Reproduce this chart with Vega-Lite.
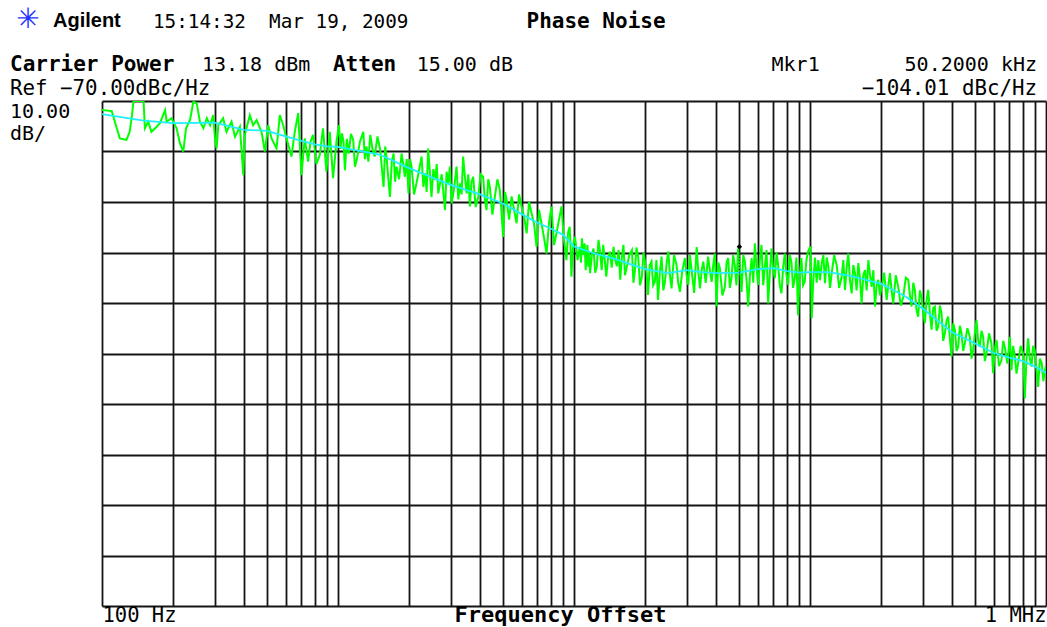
{
  "$schema": "https://vega.github.io/schema/vega-lite/v6.json",
  "width": 944,
  "height": 505,
  "autosize": {"type": "none"},
  "padding": {"left": 102, "top": 101, "right": 1, "bottom": 21},
  "background": "white",
  "config": {"view": {"stroke": null}, "font": "DejaVu Sans Mono"},
  "datasets": {
    "raw": [
      {"f":100,"db":-71.8},{"f":110,"db":-72.0},{"f":115,"db":-75.1},{"f":119,"db":-77.4},{"f":127,"db":-77.7},{"f":131,"db":-76.1},{"f":134,"db":-72.8},{"f":136,"db":-70.0},{"f":150,"db":-70.0},{"f":152,"db":-75.4},{"f":157,"db":-74.1},{"f":162,"db":-76.1},{"f":168,"db":-75.4},{"f":176,"db":-74.4},{"f":185,"db":-71.8},{"f":188,"db":-74.1},{"f":197,"db":-73.4},{"f":207,"db":-75.4},{"f":214,"db":-78.4},{"f":221,"db":-80.0},{"f":227,"db":-75.4},{"f":236,"db":-73.8},{"f":244,"db":-70.1},{"f":252,"db":-70.5},{"f":260,"db":-74.1},{"f":269,"db":-75.4},{"f":278,"db":-73.4},{"f":287,"db":-74.8},{"f":296,"db":-72.8},{"f":301,"db":-77.4},{"f":306,"db":-79.4},{"f":311,"db":-74.8},{"f":326,"db":-73.4},{"f":337,"db":-76.1},{"f":354,"db":-74.1},{"f":366,"db":-77.1},{"f":384,"db":-75.1},{"f":397,"db":-84.7},{"f":403,"db":-76.7},{"f":423,"db":-72.8},{"f":437,"db":-74.8},{"f":452,"db":-73.8},{"f":474,"db":-76.1},{"f":490,"db":-80.0},{"f":506,"db":-74.8},{"f":523,"db":-77.4},{"f":549,"db":-79.4},{"f":567,"db":-72.8},{"f":586,"db":-74.8},{"f":605,"db":-77.4},{"f":635,"db":-81.0},{"f":656,"db":-76.1},{"f":678,"db":-72.4},{"f":700,"db":-84.7},{"f":723,"db":-77.4},{"f":747,"db":-82.0},{"f":765,"db":-78.0},{"f":784,"db":-76.7},{"f":810,"db":-82.5},{"f":837,"db":-80.7},{"f":864,"db":-75.4},{"f":893,"db":-84.0},{"f":923,"db":-76.1},{"f":953,"db":-85.3},{"f":985,"db":-78.1},
      {"f":1010,"db":-74.8},{"f":1025,"db":-79.5},{"f":1040,"db":-76.4},{"f":1055,"db":-78.0},{"f":1070,"db":-83.7},{"f":1090,"db":-77.5},{"f":1110,"db":-80.4},{"f":1135,"db":-76.5},{"f":1160,"db":-77.7},{"f":1180,"db":-83.0},{"f":1200,"db":-81.7},{"f":1240,"db":-78.0},{"f":1280,"db":-76.1},{"f":1300,"db":-81.5},{"f":1320,"db":-79.0},{"f":1345,"db":-82.0},{"f":1370,"db":-76.7},{"f":1400,"db":-79.5},{"f":1430,"db":-81.0},{"f":1470,"db":-77.0},{"f":1510,"db":-79.7},{"f":1535,"db":-83.5},{"f":1560,"db":-87.0},{"f":1585,"db":-79.0},{"f":1610,"db":-81.7},{"f":1635,"db":-85.5},{"f":1660,"db":-89.0},{"f":1690,"db":-82.0},{"f":1720,"db":-80.4},{"f":1745,"db":-86.0},{"f":1770,"db":-83.0},{"f":1815,"db":-85.5},{"f":1860,"db":-80.4},{"f":1890,"db":-82.5},{"f":1920,"db":-85.0},{"f":1955,"db":-81.5},{"f":1990,"db":-88.3},{"f":2020,"db":-81.5},{"f":2050,"db":-83.0},{"f":2100,"db":-88.5},{"f":2150,"db":-86.3},{"f":2200,"db":-84.0},{"f":2260,"db":-81.0},{"f":2300,"db":-87.0},{"f":2340,"db":-84.3},{"f":2375,"db":-88.0},{"f":2410,"db":-79.4},{"f":2450,"db":-84.0},{"f":2490,"db":-89.0},{"f":2535,"db":-83.5},{"f":2580,"db":-85.6},{"f":2620,"db":-82.5},{"f":2660,"db":-88.3},{"f":2750,"db":-84.5},{"f":2840,"db":-91.6},{"f":2885,"db":-84.0},{"f":2930,"db":-86.3},{"f":2980,"db":-83.0},{"f":3030,"db":-90.3},{"f":3100,"db":-87.5},{"f":3180,"db":-83.0},{"f":3235,"db":-89.5},{"f":3290,"db":-86.3},{"f":3340,"db":-88.5},{"f":3390,"db":-81.0},{"f":3450,"db":-85.0},{"f":3510,"db":-88.3},{"f":3565,"db":-84.5},{"f":3620,"db":-90.9},{"f":3680,"db":-86.0},{"f":3740,"db":-85.0},{"f":3830,"db":-91.0},{"f":3930,"db":-89.0},{"f":4020,"db":-84.5},{"f":4120,"db":-85.0},{"f":4190,"db":-89.5},{"f":4260,"db":-91.6},{"f":4330,"db":-85.5},{"f":4400,"db":-87.0},{"f":4510,"db":-92.5},{"f":4620,"db":-89.0},{"f":4735,"db":-85.5},{"f":4850,"db":-87.6},{"f":4930,"db":-92.0},{"f":5010,"db":-96.9},{"f":5100,"db":-88.0},{"f":5180,"db":-89.6},{"f":5310,"db":-93.5},{"f":5440,"db":-88.9},{"f":5575,"db":-91.5},{"f":5710,"db":-94.2},{"f":5850,"db":-88.5},{"f":6000,"db":-90.9},{"f":6150,"db":-93.0},{"f":6300,"db":-96.2},{"f":6450,"db":-90.0},{"f":6610,"db":-92.2},{"f":6780,"db":-94.5},{"f":6940,"db":-98.9},{"f":7110,"db":-91.5},{"f":7280,"db":-94.2},{"f":7460,"db":-97.0},{"f":7650,"db":-100.2},{"f":7840,"db":-94.0},{"f":8030,"db":-90.9},{"f":8230,"db":-98.5},{"f":8430,"db":-96.2},{"f":8640,"db":-93.5},{"f":8850,"db":-90.9},{"f":9070,"db":-97.5},{"f":9290,"db":-101.5},{"f":9440,"db":-96.0},{"f":9590,"db":-94.9},{"f":9670,"db":-99.0},{"f":9750,"db":-104.8},{"f":9920,"db":-98.5},
      {"f":10100,"db":-96.9},{"f":10350,"db":-101.5},{"f":10600,"db":-98.9},{"f":10700,"db":-102.0},{"f":10800,"db":-97.2},{"f":10950,"db":-100.5},{"f":11100,"db":-98.2},{"f":11200,"db":-103.5},{"f":11300,"db":-101.1},{"f":11400,"db":-98.5},{"f":11500,"db":-102.8},{"f":11600,"db":-100.0},{"f":11700,"db":-104.1},{"f":11900,"db":-100.5},{"f":12100,"db":-99.2},{"f":12300,"db":-104.0},{"f":12500,"db":-102.7},{"f":12700,"db":-97.5},{"f":12900,"db":-99.8},{"f":13100,"db":-103.5},{"f":13300,"db":-98.5},{"f":13500,"db":-101.5},{"f":13700,"db":-104.8},{"f":13950,"db":-101.0},{"f":14200,"db":-99.8},{"f":14450,"db":-103.0},{"f":14700,"db":-98.9},{"f":14950,"db":-101.5},{"f":15200,"db":-102.7},{"f":15450,"db":-99.5},{"f":15700,"db":-105.4},{"f":15950,"db":-101.0},{"f":16200,"db":-98.5},{"f":16450,"db":-104.5},{"f":16700,"db":-103.1},{"f":17150,"db":-100.5},{"f":17600,"db":-99.5},{"f":17850,"db":-106.0},{"f":18100,"db":-103.8},{"f":18400,"db":-99.0},{"f":18700,"db":-100.8},{"f":19050,"db":-106.5},{"f":19400,"db":-104.8},{"f":19700,"db":-100.0},{"f":20000,"db":-101.8},{"f":20300,"db":-104.0},{"f":20600,"db":-108.4},{"f":20950,"db":-102.5},{"f":21300,"db":-101.8},{"f":21650,"db":-106.5},{"f":22000,"db":-105.8},{"f":22350,"db":-101.5},{"f":22700,"db":-109.4},{"f":23100,"db":-104.0},{"f":23500,"db":-100.8},{"f":23900,"db":-107.5},{"f":24300,"db":-105.8},{"f":24700,"db":-102.0},{"f":25100,"db":-99.8},{"f":25500,"db":-104.5},{"f":25900,"db":-107.1},{"f":26550,"db":-100.5},{"f":27200,"db":-102.5},{"f":27650,"db":-106.0},{"f":28100,"db":-107.8},{"f":28800,"db":-103.5},{"f":29500,"db":-101.1},{"f":30000,"db":-104.5},{"f":30500,"db":-106.4},{"f":31000,"db":-100.5},{"f":31500,"db":-103.5},{"f":32300,"db":-108.0},{"f":33100,"db":-98.9},{"f":33650,"db":-104.0},{"f":34200,"db":-107.1},{"f":34750,"db":-103.5},{"f":35300,"db":-101.8},{"f":36150,"db":-106.0},{"f":37000,"db":-100.8},{"f":37650,"db":-103.5},{"f":38300,"db":-105.8},{"f":38900,"db":-102.5},{"f":39500,"db":-100.2},{"f":39850,"db":-105.0},{"f":40200,"db":-110.7},{"f":40850,"db":-102.0},{"f":41500,"db":-103.1},{"f":42550,"db":-108.5},{"f":43600,"db":-106.8},{"f":44300,"db":-102.0},{"f":45000,"db":-101.1},{"f":45750,"db":-107.0},{"f":46500,"db":-105.1},{"f":47250,"db":-100.5},{"f":48000,"db":-102.5},{"f":48800,"db":-106.5},{"f":49600,"db":-99.2},{"f":50450,"db":-103.0},{"f":51300,"db":-107.8},{"f":52150,"db":-100.5},{"f":53000,"db":-101.8},{"f":53850,"db":-105.5},{"f":54700,"db":-110.7},{"f":55650,"db":-104.5},{"f":56600,"db":-101.1},{"f":57500,"db":-106.0},{"f":58400,"db":-98.2},{"f":59350,"db":-103.0},{"f":60300,"db":-106.4},{"f":61300,"db":-101.5},{"f":62300,"db":-98.5},{"f":63350,"db":-106.5},{"f":64400,"db":-102.8},{"f":65450,"db":-99.5},{"f":66500,"db":-110.1},{"f":67600,"db":-104.0},{"f":68700,"db":-99.2},{"f":69850,"db":-103.5},{"f":71000,"db":-105.1},{"f":72150,"db":-100.0},{"f":73300,"db":-102.5},{"f":74500,"db":-106.5},{"f":75700,"db":-108.1},{"f":76950,"db":-103.0},{"f":78200,"db":-100.2},{"f":79500,"db":-104.5},{"f":80800,"db":-106.4},{"f":82100,"db":-100.5},{"f":83400,"db":-101.8},{"f":84800,"db":-107.0},{"f":86200,"db":-105.1},{"f":87600,"db":-101.0},{"f":89000,"db":-112.4},{"f":90450,"db":-104.5},{"f":91900,"db":-101.1},{"f":93450,"db":-106.5},{"f":95000,"db":-105.8},{"f":96550,"db":-101.5},{"f":98100,"db":-99.8},
      {"f":100500,"db":-98.8},{"f":101700,"db":-113.0},{"f":103300,"db":-105.5},{"f":105000,"db":-101.0},{"f":106700,"db":-106.0},{"f":108400,"db":-101.5},{"f":110200,"db":-105.5},{"f":112100,"db":-102.1},{"f":113900,"db":-100.5},{"f":115800,"db":-106.1},{"f":117700,"db":-101.0},{"f":119600,"db":-102.8},{"f":121600,"db":-107.0},{"f":123600,"db":-104.1},{"f":126600,"db":-100.5},{"f":129700,"db":-102.5},{"f":132900,"db":-107.0},{"f":136200,"db":-104.8},{"f":138400,"db":-101.5},{"f":140700,"db":-107.4},{"f":143000,"db":-103.0},{"f":145300,"db":-100.2},{"f":147700,"db":-105.5},{"f":150200,"db":-108.1},{"f":152600,"db":-102.5},{"f":155100,"db":-104.1},{"f":157600,"db":-107.5},{"f":160200,"db":-102.1},{"f":162800,"db":-105.0},{"f":165500,"db":-110.1},{"f":168200,"db":-104.5},{"f":171000,"db":-103.5},{"f":173800,"db":-107.5},{"f":176700,"db":-101.5},{"f":179600,"db":-104.5},{"f":182500,"db":-106.8},{"f":185500,"db":-103.5},{"f":188500,"db":-110.7},{"f":191600,"db":-106.5},{"f":194700,"db":-105.4},{"f":197900,"db":-108.5},{"f":201200,"db":-106.8},{"f":206200,"db":-104.0},{"f":211300,"db":-109.4},{"f":214700,"db":-106.5},{"f":218100,"db":-104.1},{"f":221700,"db":-107.5},{"f":225300,"db":-110.1},{"f":230900,"db":-104.5},{"f":236600,"db":-106.8},{"f":242500,"db":-110.5},{"f":248400,"db":-108.8},{"f":254600,"db":-105.0},{"f":260800,"db":-105.4},{"f":265100,"db":-108.5},{"f":269400,"db":-110.7},{"f":273800,"db":-106.0},{"f":278300,"db":-107.4},{"f":282800,"db":-111.5},{"f":287400,"db":-112.7},{"f":292100,"db":-107.5},{"f":296900,"db":-108.8},{"f":301800,"db":-112.0},{"f":306800,"db":-114.0},{"f":311800,"db":-109.5},{"f":316900,"db":-107.4},{"f":322100,"db":-112.0},{"f":327400,"db":-115.3},{"f":332800,"db":-111.0},{"f":338200,"db":-110.7},{"f":343800,"db":-115.5},{"f":349400,"db":-114.7},{"f":355100,"db":-110.5},{"f":360900,"db":-112.0},{"f":366900,"db":-117.5},{"f":372900,"db":-116.0},{"f":379000,"db":-113.5},{"f":385200,"db":-112.7},{"f":391500,"db":-117.0},{"f":397900,"db":-120.6},{"f":404400,"db":-114.0},{"f":411000,"db":-115.3},{"f":417800,"db":-119.5},{"f":424600,"db":-118.7},{"f":431600,"db":-114.5},{"f":438600,"db":-116.0},{"f":445800,"db":-119.5},{"f":453100,"db":-118.0},{"f":464400,"db":-115.0},{"f":475700,"db":-116.7},{"f":483500,"db":-121.0},{"f":491400,"db":-119.3},{"f":499500,"db":-116.0},{"f":507700,"db":-113.4},{"f":516000,"db":-117.5},{"f":524400,"db":-118.7},{"f":533000,"db":-115.5},{"f":541700,"db":-116.7},{"f":550600,"db":-121.5},{"f":559600,"db":-120.0},{"f":573600,"db":-116.0},{"f":587600,"db":-118.0},{"f":592300,"db":-121.0},{"f":597000,"db":-123.9},{"f":607000,"db":-119.0},{"f":617000,"db":-117.3},{"f":632500,"db":-122.5},{"f":648000,"db":-121.3},{"f":658500,"db":-117.5},{"f":669000,"db":-118.7},{"f":686000,"db":-122.0},{"f":703000,"db":-116.7},{"f":708500,"db":-120.0},{"f":714000,"db":-123.3},{"f":726000,"db":-118.5},{"f":738000,"db":-120.6},{"f":750000,"db":-124.0},{"f":762000,"db":-121.9},{"f":781000,"db":-118.5},{"f":800000,"db":-120.0},{"f":806500,"db":-124.0},{"f":813000,"db":-128.9},{"f":826500,"db":-121.0},{"f":840000,"db":-117.0},{"f":854000,"db":-121.0},{"f":868000,"db":-122.6},{"f":882000,"db":-118.5},{"f":896000,"db":-119.3},{"f":911000,"db":-123.0},{"f":926000,"db":-126.6},{"f":942500,"db":-121.0},{"f":959000,"db":-121.9},{"f":974500,"db":-125.5},{"f":990000,"db":-123.3},{"f":1000000,"db":-122.5}
    ],
    "avg": [
      {"f":100,"db":-72.6},{"f":150,"db":-73.9},{"f":200,"db":-74.4},{"f":300,"db":-74.3},{"f":400,"db":-75.7},{"f":500,"db":-75.9},{"f":600,"db":-77.0},{"f":700,"db":-77.9},{"f":800,"db":-78.6},{"f":900,"db":-79.0},{"f":1000,"db":-79.1},{"f":1500,"db":-80.6},{"f":2000,"db":-83.3},{"f":3000,"db":-86.6},{"f":4000,"db":-88.5},{"f":5000,"db":-90.3},{"f":6000,"db":-92.4},{"f":7000,"db":-94.1},{"f":8000,"db":-95.3},{"f":9000,"db":-96.5},{"f":10000,"db":-98.8},{"f":12000,"db":-100.1},{"f":15000,"db":-101.3},{"f":20000,"db":-103.3},{"f":25000,"db":-104.1},{"f":30000,"db":-103.5},{"f":35000,"db":-103.9},{"f":40000,"db":-104.1},{"f":50200,"db":-104.0},{"f":60000,"db":-103.3},{"f":70000,"db":-103.1},{"f":80000,"db":-103.7},{"f":90000,"db":-104.0},{"f":100000,"db":-103.9},{"f":120000,"db":-103.9},{"f":150000,"db":-104.7},{"f":200000,"db":-106.2},{"f":250000,"db":-108.5},{"f":300000,"db":-111.1},{"f":400000,"db":-115.8},{"f":500000,"db":-118.0},{"f":600000,"db":-119.9},{"f":700000,"db":-120.8},{"f":800000,"db":-121.5},{"f":900000,"db":-122.6},{"f":1000000,"db":-123.8}
    ],
    "marker": [{"f":50200,"db":-104.01}]
  },
  "layer": [
    {
      "data": {"name": "raw"},
      "mark": {"type": "line", "color": "#00ff00", "strokeWidth": 2, "clip": true},
      "encoding": {
        "x": {"field": "f", "type": "quantitative",
          "scale": {"type": "log", "domain": [100, 1000000]},
          "axis": {
            "values": [100,200,300,400,500,600,700,800,900,1000,2000,3000,4000,5000,6000,7000,8000,9000,10000,20000,30000,40000,50000,60000,70000,80000,90000,100000,200000,300000,400000,500000,600000,700000,800000,900000,1000000],
            "grid": true, "gridColor": "#151515", "gridWidth": 1.8, "gridOpacity": 1,
            "ticks": false, "domain": false,
            "labelExpr": "datum.value == 100 ? '100 Hz' : (datum.value == 1000000 ? '1 MHz' : '')",
            "labelFlush": true, "labelOverlap": false, "labelBaseline": "alphabetic",
            "labelFont": "DejaVu Sans Mono", "labelFontSize": 20.5, "labelColor": "#000", "labelPadding": 15,
            "title": "Frequency Offset", "titleFont": "DejaVu Sans Mono", "titleFontWeight": "bold",
            "titleFontSize": 22, "titleColor": "#000", "titleX": 458, "titleY": 15,
            "titleBaseline": "alphabetic", "titleAlign": "center"
          }
        },
        "y": {"field": "db", "type": "quantitative",
          "scale": {"domain": [-170, -70]},
          "axis": {
            "values": [-170,-160,-150,-140,-130,-120,-110,-100,-90,-80,-70],
            "grid": true, "gridColor": "#151515", "gridWidth": 1.8, "gridOpacity": 1,
            "ticks": false, "domain": false, "labels": false, "title": null
          }
        }
      }
    },
    {
      "data": {"name": "avg"},
      "mark": {"type": "line", "color": "#1ef0ff", "strokeWidth": 1.8, "clip": true},
      "encoding": {
        "x": {"field": "f", "type": "quantitative"},
        "y": {"field": "db", "type": "quantitative"}
      }
    },
    {
      "data": {"name": "marker"},
      "mark": {"type": "rule", "color": "#000", "strokeWidth": 1, "strokeDash": [1, 2]},
      "encoding": {
        "x": {"field": "f", "type": "quantitative"},
        "y": {"field": "db", "type": "quantitative"},
        "y2": {"datum": -99.4}
      }
    },
    {
      "data": {"name": "marker"},
      "mark": {"type": "point", "shape": "diamond", "filled": true, "color": "#000", "size": 30, "opacity": 1, "yOffset": -26},
      "encoding": {
        "x": {"field": "f", "type": "quantitative"},
        "y": {"field": "db", "type": "quantitative"}
      }
    },
    {
      "data": {"values": [{}]},
      "mark": {"type": "text", "font": "DejaVu Sans", "fontSize": 28, "color": "#2233ff", "align": "center", "baseline": "middle"},
      "encoding": {"x": {"datum": 48.6, "type": "quantitative"}, "y": {"datum": -53.96, "type": "quantitative"}, "text": {"value": "✳"}}
    },
    {
      "data": {"values": [{}]},
      "mark": {"type": "text", "font": "Liberation Sans", "fontWeight": "bold", "fontSize": 20, "color": "#000", "align": "left", "baseline": "alphabetic"},
      "encoding": {"x": {"datum": 62.0, "type": "quantitative"}, "y": {"datum": -55.35, "type": "quantitative"}, "text": {"value": "Agilent"}}
    },
    {
      "data": {"values": [{}]},
      "mark": {"type": "text", "font": "DejaVu Sans Mono", "fontSize": 19.3, "color": "#000", "align": "left", "baseline": "alphabetic"},
      "encoding": {"x": {"datum": 164.5, "type": "quantitative"}, "y": {"datum": -55.54, "type": "quantitative"}, "text": {"value": "15:14:32\u00a0 Mar 19, 2009"}}
    },
    {
      "data": {"values": [{}]},
      "mark": {"type": "text", "font": "DejaVu Sans Mono", "fontWeight": "bold", "fontSize": 21, "color": "#000", "align": "center", "baseline": "alphabetic"},
      "encoding": {"x": {"datum": 12400, "type": "quantitative"}, "y": {"datum": -55.54, "type": "quantitative"}, "text": {"value": "Phase Noise"}}
    },
    {
      "data": {"values": [{}]},
      "mark": {"type": "text", "font": "DejaVu Sans Mono", "fontWeight": "bold", "fontSize": 21, "color": "#000", "align": "left", "baseline": "alphabetic"},
      "encoding": {"x": {"datum": 40.75, "type": "quantitative"}, "y": {"datum": -64.06, "type": "quantitative"}, "text": {"value": "Carrier Power"}}
    },
    {
      "data": {"values": [{}]},
      "mark": {"type": "text", "font": "DejaVu Sans Mono", "fontSize": 20, "color": "#000", "align": "left", "baseline": "alphabetic"},
      "encoding": {"x": {"datum": 265, "type": "quantitative"}, "y": {"datum": -64.06, "type": "quantitative"}, "text": {"value": "13.18 dBm"}}
    },
    {
      "data": {"values": [{}]},
      "mark": {"type": "text", "font": "DejaVu Sans Mono", "fontWeight": "bold", "fontSize": 21, "color": "#000", "align": "left", "baseline": "alphabetic"},
      "encoding": {"x": {"datum": 952, "type": "quantitative"}, "y": {"datum": -64.06, "type": "quantitative"}, "text": {"value": "Atten"}}
    },
    {
      "data": {"values": [{}]},
      "mark": {"type": "text", "font": "DejaVu Sans Mono", "fontSize": 20, "color": "#000", "align": "left", "baseline": "alphabetic"},
      "encoding": {"x": {"datum": 2155, "type": "quantitative"}, "y": {"datum": -64.06, "type": "quantitative"}, "text": {"value": "15.00 dB"}}
    },
    {
      "data": {"values": [{}]},
      "mark": {"type": "text", "font": "DejaVu Sans Mono", "fontSize": 20, "color": "#000", "align": "left", "baseline": "alphabetic"},
      "encoding": {"x": {"datum": 68700, "type": "quantitative"}, "y": {"datum": -64.06, "type": "quantitative"}, "text": {"value": "Mkr1"}}
    },
    {
      "data": {"values": [{}]},
      "mark": {"type": "text", "font": "DejaVu Sans Mono", "fontSize": 20, "color": "#000", "align": "right", "baseline": "alphabetic"},
      "encoding": {"x": {"datum": 916000, "type": "quantitative"}, "y": {"datum": -64.06, "type": "quantitative"}, "text": {"value": "50.2000 kHz"}}
    },
    {
      "data": {"values": [{}]},
      "mark": {"type": "text", "font": "DejaVu Sans Mono", "fontSize": 20.8, "color": "#000", "align": "right", "baseline": "alphabetic"},
      "encoding": {"x": {"datum": 916000, "type": "quantitative"}, "y": {"datum": -68.9, "type": "quantitative"}, "text": {"value": "−104.01 dBc/Hz"}}
    },
    {
      "data": {"values": [{}]},
      "mark": {"type": "text", "font": "DejaVu Sans Mono", "fontSize": 20.8, "color": "#000", "align": "left", "baseline": "alphabetic"},
      "encoding": {"x": {"datum": 40.75, "type": "quantitative"}, "y": {"datum": -68.9, "type": "quantitative"}, "text": {"value": "Ref −70.00dBc/Hz"}}
    },
    {
      "data": {"values": [{}]},
      "mark": {"type": "text", "font": "DejaVu Sans Mono", "fontSize": 20, "color": "#000", "align": "left", "baseline": "alphabetic"},
      "encoding": {"x": {"datum": 40.75, "type": "quantitative"}, "y": {"datum": -73.27, "type": "quantitative"}, "text": {"value": "10.00"}}
    },
    {
      "data": {"values": [{}]},
      "mark": {"type": "text", "font": "DejaVu Sans Mono", "fontSize": 20, "color": "#000", "align": "left", "baseline": "alphabetic"},
      "encoding": {"x": {"datum": 40.75, "type": "quantitative"}, "y": {"datum": -77.72, "type": "quantitative"}, "text": {"value": "dB/"}}
    }
  ]
}
